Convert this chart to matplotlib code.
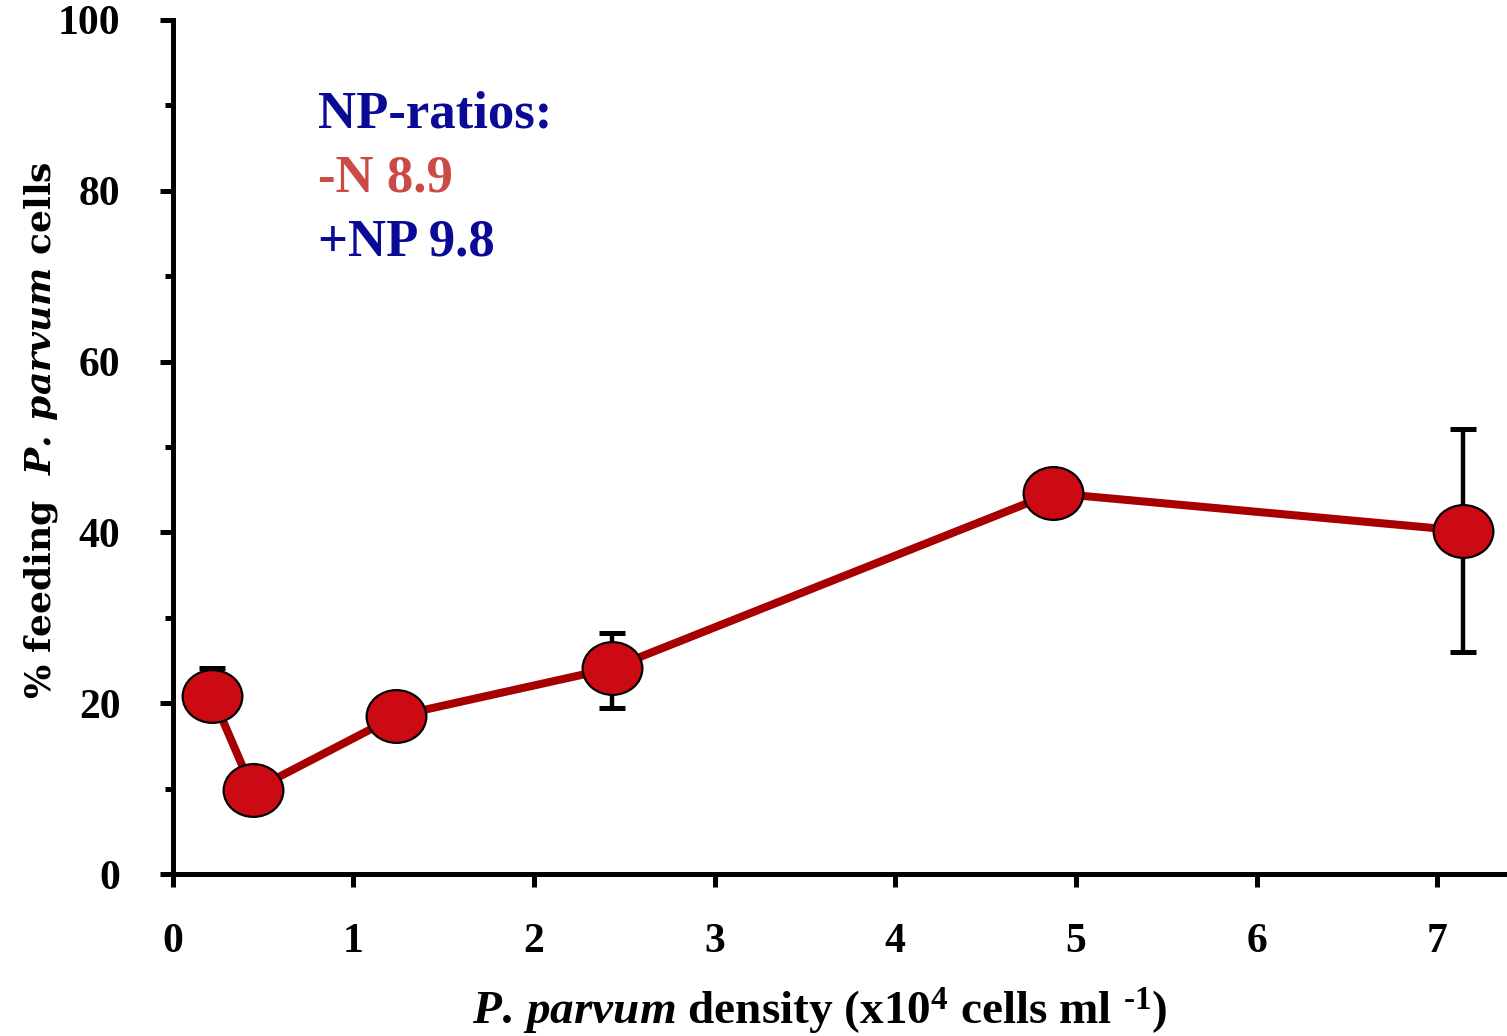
import matplotlib
matplotlib.use("Agg")
import matplotlib.pyplot as plt
from matplotlib.path import Path
from matplotlib.transforms import Affine2D
from matplotlib.ticker import MultipleLocator

# Data: P. parvum density (x10^4 cells/ml) vs % feeding cells
density = [0.218, 0.444, 1.237, 2.43, 4.871, 7.145]
feeding = [20.9, 9.8, 18.5, 24.1, 44.6, 40.2]
err_low = [2.4, 0.0, 0.0, 4.7, 0.0, 14.2]
err_high = [3.2, 0.0, 0.0, 4.1, 0.0, 11.9]

x_ticks = [0, 1, 2, 3, 4, 5, 6, 7]
y_ticks = [0, 20, 40, 60, 80, 100]

plt.rcParams["mathtext.fontset"] = "custom"
plt.rcParams["mathtext.rm"] = "Liberation Serif:bold"
plt.rcParams["mathtext.it"] = "Liberation Serif:bold:italic"
plt.rcParams["mathtext.cal"] = "DejaVu Serif:bold:italic"
plt.rcParams["mathtext.default"] = "rm"

fig = plt.figure(figsize=(15.07, 10.36), dpi=100)
ax = fig.add_axes([0.1146, 0.1563, 1 - 0.1146, 0.9807 - 0.1563])

# slightly flattened ellipse marker
ellipse = Path.unit_circle().transformed(Affine2D().scale(1.0, 53 / 60))

ax.errorbar(density, feeding, yerr=[err_low, err_high], fmt="none",
            ecolor="black", elinewidth=3.2, capsize=9.5, capthick=3.6, zorder=2)
ax.plot(density, feeding, color="#a80000", lw=5.8, zorder=3,
        marker=ellipse, markersize=43, markerfacecolor="#cc0a14",
        markeredgecolor="black", markeredgewidth=1.6, clip_on=False)

ax.set_xlim(0, 7.386)
ax.set_ylim(0, 100)
ax.set_xticks(x_ticks)
ax.set_yticks(y_ticks)
ax.yaxis.set_minor_locator(MultipleLocator(10))

for s in ["top", "right"]:
    ax.spines[s].set_visible(False)
for s in ["left", "bottom"]:
    ax.spines[s].set_linewidth(3.6)
    ax.spines[s].set_capstyle("projecting")

ax.tick_params(axis="both", which="major", direction="out", length=9.5,
               width=3.6, pad=26)
ax.tick_params(axis="y", which="minor", direction="out", length=6, width=3.6)
ax.tick_params(axis="y", which="major", pad=28)

for lab in ax.get_xticklabels() + ax.get_yticklabels():
    lab.set_fontfamily("Liberation Serif")
    lab.set_fontweight("bold")
    lab.set_fontsize(30)

fig.text(0.5443, 0.0106,
         r"$\mathit{P.\,parvum}$ density (x10$^{4}$ cells ml $^{\text{-1}}$)",
         ha="center", va="baseline", fontfamily="Liberation Serif",
         fontweight="bold", fontsize=34)

fig.text(0.027, 0.585, r"% feeding  $\mathcal{P.\ parvum}$ cells",
         rotation=90, ha="center", va="center", fontfamily="DejaVu Serif",
         fontweight="bold", fontsize=26)

txt_kw = dict(fontfamily="Liberation Serif", fontweight="bold", fontsize=38,
              ha="left", va="baseline")
fig.text(318 / 1507, 1 - 128 / 1036, "NP-ratios:", color="#0a0a96", **txt_kw)
fig.text(318 / 1507, 1 - 192 / 1036, "-N 8.9", color="#cc4a46", **txt_kw)
fig.text(318 / 1507, 1 - 255 / 1036, "+NP 9.8", color="#0a0a96", **txt_kw)

fig.savefig("out.png", dpi=100)
